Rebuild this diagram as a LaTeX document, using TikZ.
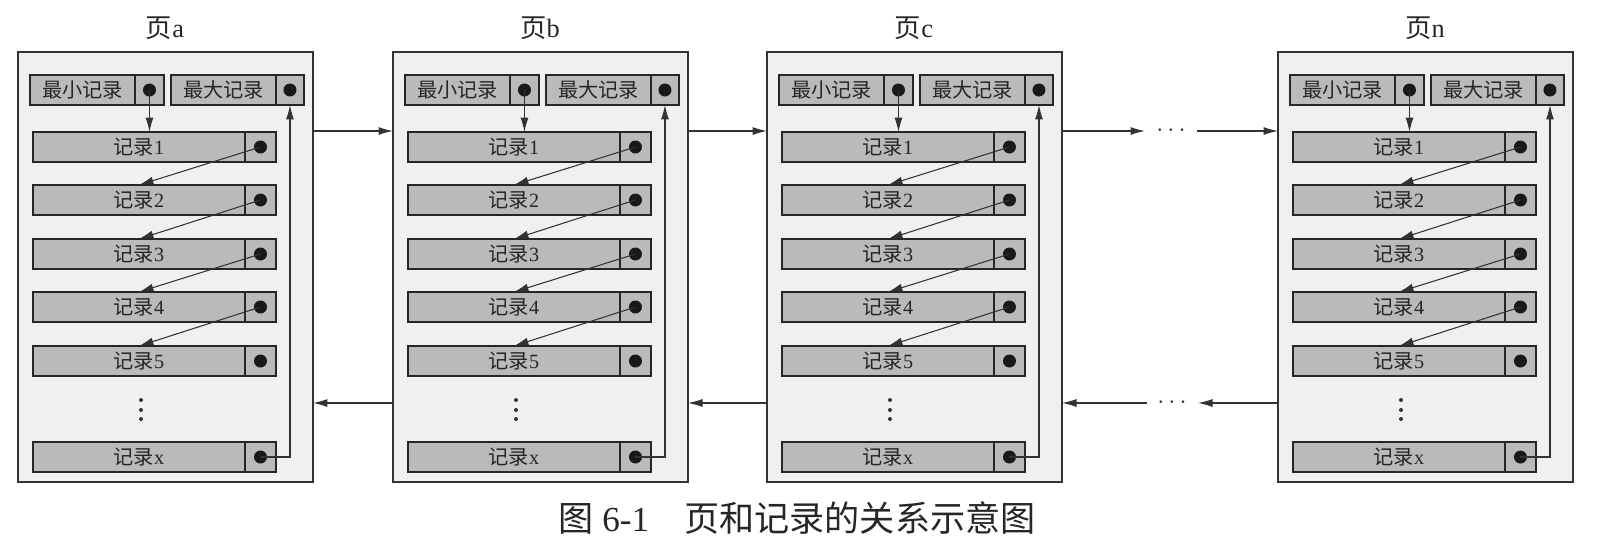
\documentclass[tikz,border=0pt]{standalone}
\usepackage{fontspec}
\setmainfont{Liberation Serif}
\newfontfamily\cjk{Noto Sans CJK SC}
\usetikzlibrary{arrows.meta,positioning}

\tikzset{
  page/.style={draw=black!80, line width=1.1pt, fill=black!6, minimum width=5.9cm,
    minimum height=8.6cm, inner sep=0pt, outer sep=0pt},
  field/.style={draw=black!85, line width=1pt, fill=black!27, minimum height=0.6cm,
    inner sep=0pt, outer sep=0pt, text=black!85, font=\fontsize{11.5}{12}\selectfont},
  ptr/.style={field, minimum width=0.6cm},
  link/.style={draw=black!80, line width=0.6pt, -{Latex[length=2.9mm,width=1.6mm]}},
  title/.style={text=black!85, font=\fontsize{15}{16}\selectfont},
}

\begin{document}
\begin{tikzpicture}[x=0.02cm, y=-0.02cm]
\useasboundingbox (0,0) rectangle (1607,549);

\foreach \p/\x in {a/18, b/393, c/767, n/1278} {
  \node[page, anchor=north west] (\p) at (\x,52) {};
  \node[title] (\p-title) at (\x+147,28) {{\cjk 页}\p};
  % head fields
  \node[field, minimum width=2.1cm, anchor=north west] (\p-min) at (\x+12,75) {{\cjk 最小记录}};
  \node[ptr, minimum width=0.58cm, right=0pt of \p-min] (\p-min-p) {};
  \node[field, minimum width=2.1cm, anchor=north west] (\p-max) at (\x+153,75) {{\cjk 最大记录}};
  \node[ptr, minimum width=0.56cm, right=0pt of \p-max] (\p-max-p) {};
  \fill[black!90] (\p-min-p) circle [radius=0.13cm];
  \fill[black!90] (\p-max-p) circle [radius=0.13cm];
  % records
  \foreach \r/\y in {1/132, 2/185, 3/239, 4/292, 5/346, x/442} {
    \node[field, minimum width=4.24cm, anchor=north west] (\p-r\r) at (\x+15,\y) {{\cjk 记录}\r};
    \node[ptr, minimum width=0.62cm, right=0pt of \p-r\r] (\p-r\r-p) {};
    \fill[black!90] (\p-r\r-p) circle [radius=0.13cm];
  }
  \foreach \d in {400, 410, 419}
    \fill[black!80] (\x+123,\d) circle [radius=0.04cm];
  % pointers
  \draw[link] (\p-min-p.center) -- (\p-min-p.center |- \p-r1.north);
  \foreach \r [count=\n from 2] in {1,...,4}
    \draw[link] (\p-r\r-p.center) -- (\p-r\n.north);
  \draw[link] (\p-rx-p.center) -| (\p-max-p.south);
  % ends for the page links
  \coordinate (\p-tl) at (\x,131);
  \coordinate (\p-tr) at (\x+295,131);
  \coordinate (\p-bl) at (\x,403);
  \coordinate (\p-br) at (\x+295,403);
}

\draw[link] (a-tr) -- (b-tl);
\draw[link] (b-tr) -- (c-tl);
\draw[link] (b-bl) -- (a-br);
\draw[link] (c-bl) -- (b-br);

\coordinate (gap-t1) at (1145,131);
\coordinate (gap-t2) at (1197,131);
\coordinate (gap-b1) at (1147,403);
\coordinate (gap-b2) at (1198,403);
\node[font=\fontsize{14}{14}\selectfont, text=black!80] (gap-top) at (1171,131) {$\cdots$};
\node[font=\fontsize{14}{14}\selectfont, text=black!80] (gap-bottom) at (1172,403) {$\cdots$};
\draw[link] (c-tr) -- (gap-t1);
\draw[link] (gap-t2) -- (n-tl);
\draw[link] (n-bl) -- (gap-b2);
\draw[link] (gap-b1) -- (c-br);

\node[text=black!85, font=\fontsize{20}{22}\selectfont] (caption) at (797,518)
  {{\cjk 图} 6-1\quad{\cjk 页和记录的关系示意图}};
\end{tikzpicture}
\end{document}
